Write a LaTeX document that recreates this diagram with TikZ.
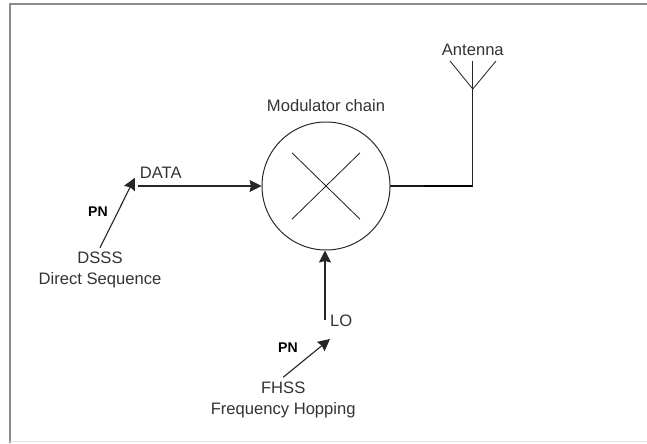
\documentclass[tikz,border=0pt]{standalone}
\usepackage{xcolor}
\usepackage{fontspec}
\setmainfont{Liberation Sans}
\usetikzlibrary{arrows.meta,positioning,calc}
\definecolor{cFrame}{HTML}{8C8C8C}
\definecolor{cFrameL}{HTML}{E4E4E4}
\tikzset{
  lab/.style={font=\fontsize{11.8}{15}\selectfont,text=black!80,inner sep=0pt,align=center},
  pnlab/.style={font=\bfseries\fontsize{10}{12}\selectfont,inner sep=0pt},
  sig/.style={-{Stealth[length=8.5pt,width=8.5pt,inset=1pt]},line width=0.8pt,draw=black!85},
  wire/.style={line width=0.6pt,draw=black!85},
}
\begin{document}
\begin{tikzpicture}[x=1cm,y=1cm]
  \useasboundingbox (0,0) rectangle (16.175,11.075);

  % frame
  \draw[cFrame,line width=1.5pt] (0.25,0) -- (0.25,10.975) -- (16.175,10.975);
  \draw[cFrameL,line width=0.6pt] (0.25,0.04) -- (16.175,0.04);

  \node[circle,draw=black!85,line width=0.7pt,minimum size=3.2cm,inner sep=0pt] (mod) at (8.15,6.425) {};
  \node[lab,above=0.25 of mod] (modlab) {Modulator chain};
  \draw[wire] ($(mod.center)+(-0.85,0.83)$) -- ($(mod.center)+(0.85,-0.83)$);
  \draw[wire] ($(mod.center)+(-0.85,-0.83)$) -- ($(mod.center)+(0.85,0.83)$);

  \node[lab] (data) at (4.02,6.75) {DATA};
  \coordinate (datain) at (3.45,6.425);
  \draw[sig] (datain) -- (mod.west);

  \node[lab] (dsss) at (2.5,4.32) {DSSS\\Direct Sequence};
  \coordinate (dsssend) at (3.37,6.63);
  \draw[sig] ([yshift=3pt]dsss.north) -- (dsssend);
  \node[pnlab] (pndsss) at (2.45,5.78) {PN};

  \node[lab] (lo) at (8.53,3.05) {LO};
  \coordinate (loin) at (8.125,3.08);
  \draw[sig] (loin) -- (loin |- mod.south);

  \node[lab] (fhss) at (7.08,1.08) {FHSS\\Frequency Hopping};
  \coordinate (fhssend) at (8.25,2.6);
  \draw[sig] ([yshift=3pt]fhss.north) -- (fhssend);
  \node[pnlab] (pnfhss) at (7.2,2.38) {PN};

  \node[lab] (ant) at (11.82,9.83) {Antenna};
  \coordinate (anttee) at (11.82,6.425);
  \coordinate (antfoot) at (11.82,8.85);
  \draw[line width=1pt,draw=black!90] (mod.east) -- (10.6,6.425);
  \draw[line width=2pt,draw=black] (10.6,6.425) -- ([xshift=0.3pt]anttee);
  \draw[wire] (anttee) -- (antfoot);
  \draw[wire] (antfoot) -- (11.82,9.55);
  \draw[wire] (antfoot) -- (11.25,9.55);
  \draw[wire] (antfoot) -- (12.4,9.55);
\end{tikzpicture}
\end{document}
